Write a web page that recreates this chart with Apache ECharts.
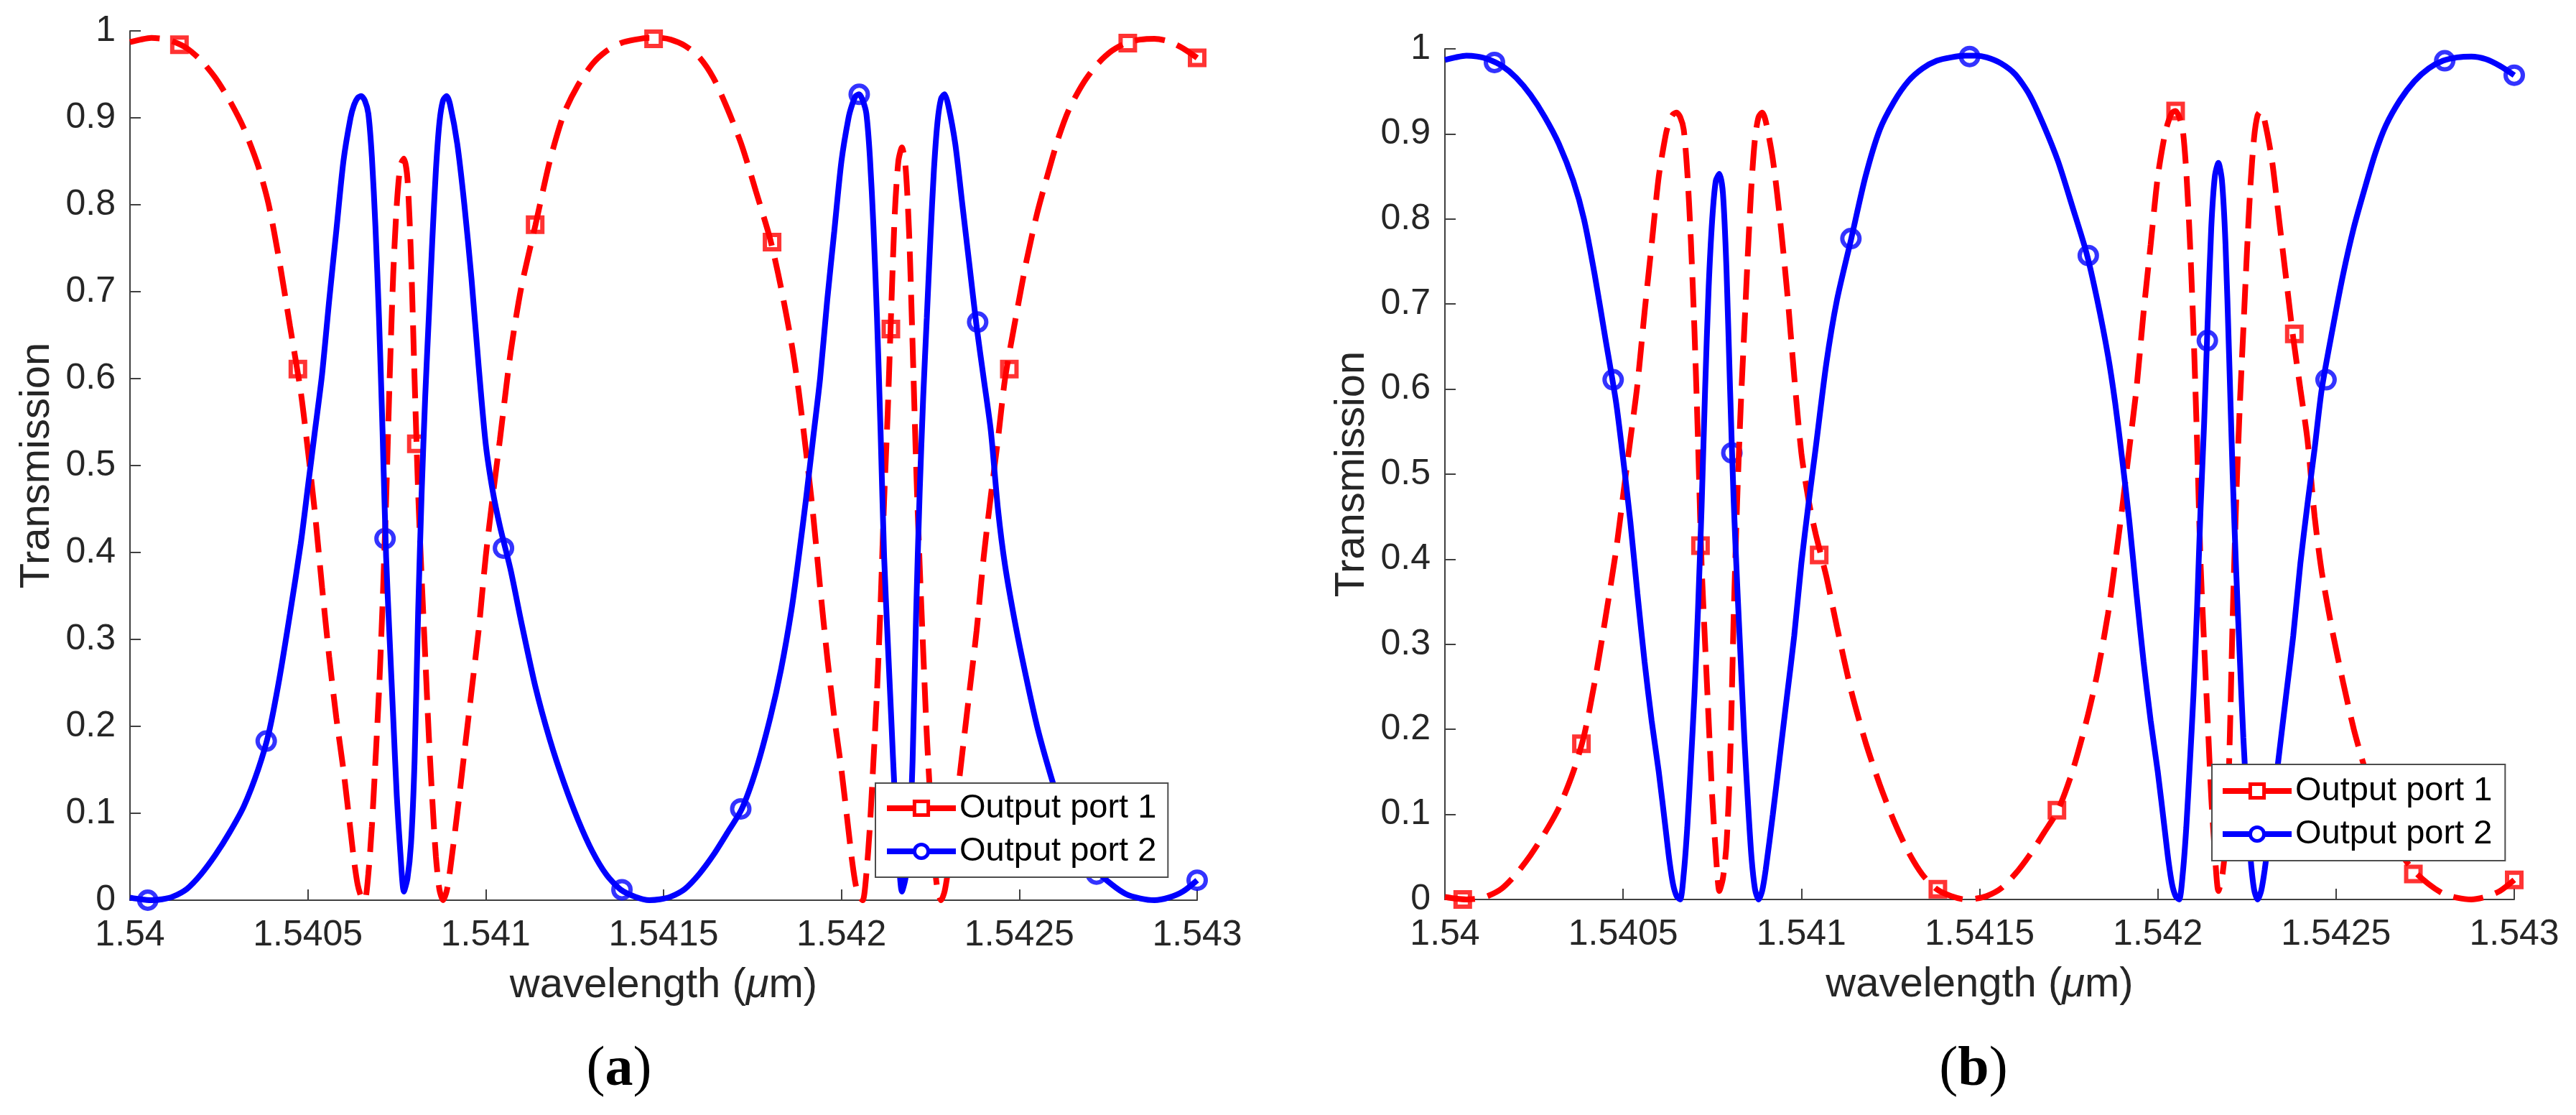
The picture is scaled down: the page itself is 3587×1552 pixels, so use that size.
<!DOCTYPE html>
<html>
<head>
<meta charset="utf-8">
<title>Transmission of output ports</title>
<script src="https://cdn.jsdelivr.net/npm/echarts@6.0.0/dist/echarts.min.js"></script>
<style>
  html, body { margin: 0; padding: 0; background: #fff; }
  #chart { width: 3587px; height: 1552px; }
</style>
</head>
<body>
<div id="chart"></div>
<script>
// wavelength grid (um), shared by both curves
var WAVELENGTH = [
    1.54000, 1.54003, 1.54006, 1.54009, 1.54012, 1.54016, 1.54020, 1.54024, 1.54028, 1.54032, 1.54036,
    1.54039, 1.54042, 1.54045, 1.54048, 1.54050, 1.54052, 1.54054, 1.54056, 1.54058, 1.54060, 1.54062,
    1.54063, 1.54064, 1.54065, 1.54066, 1.54067, 1.54068, 1.54069, 1.54070, 1.54071, 1.54072, 1.54073,
    1.54074, 1.54075, 1.54076, 1.54077, 1.54078, 1.54079, 1.54080, 1.54081, 1.54082, 1.54083, 1.54084,
    1.54085, 1.54086, 1.54087, 1.54088, 1.54089, 1.54090,
    1.54092, 1.54094, 1.54096, 1.54098, 1.54100, 1.54102, 1.54104, 1.54107, 1.54110, 1.54114, 1.54118,
    1.54122, 1.54126, 1.54130, 1.54134, 1.54138, 1.54142, 1.54146,
    1.54149, 1.54152, 1.54156, 1.54160, 1.54164, 1.54168, 1.54172, 1.54176, 1.54180, 1.54183, 1.54186,
    1.54188, 1.54190, 1.54192, 1.54194, 1.54196, 1.54198, 1.54200, 1.54202,
    1.54203, 1.54204, 1.54205, 1.54206, 1.54207, 1.54208, 1.54209, 1.54210, 1.54211, 1.54212, 1.54213,
    1.54214, 1.54215, 1.54216, 1.54217, 1.54218, 1.54219, 1.54220, 1.54221, 1.54222, 1.54223, 1.54224,
    1.54225, 1.54226, 1.54227, 1.54228, 1.54229, 1.54230,
    1.54232, 1.54234, 1.54236, 1.54238, 1.54240, 1.54242, 1.54244, 1.54246, 1.54249, 1.54252, 1.54255,
    1.54258, 1.54261, 1.54264, 1.54268, 1.54272, 1.54276, 1.54280, 1.54284, 1.54288, 1.54292, 1.54296,
    1.54300
];

// curve with the broad peaks (port 1 in (a), port 2 in (b))
var CURVE_BROAD = [
    0.987, 0.990, 0.992, 0.991, 0.988, 0.980, 0.966, 0.946, 0.920, 0.888, 0.845,
    0.800, 0.735, 0.660, 0.585, 0.518, 0.445, 0.360, 0.280, 0.210, 0.150, 0.080,
    0.045, 0.018, 0.004, 0.000, 0.030, 0.085, 0.160, 0.240, 0.340, 0.460, 0.600,
    0.720, 0.800, 0.845, 0.853, 0.830, 0.740, 0.600, 0.470, 0.370, 0.280, 0.190,
    0.115, 0.050, 0.012, 0.000, 0.010, 0.035,
    0.100, 0.170, 0.240, 0.310, 0.395, 0.465, 0.530, 0.630, 0.705, 0.777, 0.850,
    0.905, 0.938, 0.962, 0.977, 0.986, 0.990, 0.992,
    0.992, 0.990, 0.983, 0.970, 0.946, 0.910, 0.868, 0.815, 0.760, 0.705, 0.640,
    0.585, 0.518, 0.445, 0.360, 0.280, 0.210, 0.150, 0.080,
    0.045, 0.018, 0.004, 0.000, 0.030, 0.085, 0.160, 0.240, 0.340, 0.460, 0.560,
    0.680, 0.790, 0.850, 0.866, 0.845, 0.770, 0.640, 0.500, 0.385, 0.285, 0.190,
    0.115, 0.050, 0.012, 0.000, 0.010, 0.035,
    0.100, 0.170, 0.240, 0.310, 0.395, 0.465, 0.530, 0.600, 0.670, 0.735, 0.790,
    0.835, 0.877, 0.910, 0.940, 0.962, 0.977, 0.986, 0.990, 0.991, 0.988, 0.980,
    0.969
];

// curve with the double peaks (port 2 in (a), port 1 in (b))
var CURVE_DOUBLE = [
    0.003, 0.001, 0.000, 0.001, 0.004, 0.013, 0.030, 0.052, 0.078, 0.108, 0.150,
    0.192, 0.255, 0.330, 0.410, 0.475, 0.540, 0.605, 0.690, 0.770, 0.850, 0.900,
    0.915, 0.923, 0.925, 0.920, 0.905, 0.855, 0.775, 0.670, 0.540, 0.395, 0.300,
    0.210, 0.120, 0.055, 0.010, 0.025, 0.065, 0.160, 0.330, 0.470, 0.580, 0.670,
    0.760, 0.840, 0.895, 0.920, 0.925, 0.915,
    0.870, 0.800, 0.715, 0.615, 0.525, 0.470, 0.430, 0.380, 0.320, 0.245, 0.185,
    0.135, 0.092, 0.056, 0.029, 0.012, 0.004, 0.000,
    0.001, 0.004, 0.013, 0.030, 0.052, 0.078, 0.105, 0.150, 0.210, 0.265, 0.335,
    0.395, 0.460, 0.530, 0.600, 0.690, 0.770, 0.850, 0.900,
    0.915, 0.925, 0.927, 0.920, 0.905, 0.855, 0.775, 0.670, 0.540, 0.395, 0.300,
    0.210, 0.120, 0.055, 0.010, 0.025, 0.065, 0.160, 0.330, 0.470, 0.580, 0.670,
    0.760, 0.840, 0.895, 0.922, 0.927, 0.915,
    0.870, 0.800, 0.730, 0.660, 0.600, 0.540, 0.450, 0.385, 0.315, 0.255, 0.200,
    0.155, 0.115, 0.085, 0.055, 0.033, 0.018, 0.007, 0.002, 0.000, 0.003, 0.010,
    0.023
];

// marker positions on each curve
var BROAD_MARK_X = [1.540139, 1.540472, 1.540805, 1.541139, 1.541472, 1.541805, 1.542139, 1.542472, 1.542805, 1.543];
var BROAD_MARK_Y = [0.984, 0.611, 0.525, 0.777, 0.991, 0.757, 0.657, 0.611, 0.986, 0.969];
var DOUBLE_MARK_X = [1.540050, 1.540383, 1.540717, 1.541050, 1.541383, 1.541717, 1.542050, 1.542383, 1.542717, 1.543];
var DOUBLE_MARK_Y = [0.000, 0.183, 0.416, 0.405, 0.012, 0.105, 0.927, 0.665, 0.030, 0.023];

var LEGEND_NAMES = ['Output port 1', 'Output port 2'];

var FONT = '"Liberation Sans", Arial, Helvetica, sans-serif';
var SERIF = '"Liberation Serif", "DejaVu Serif", serif';
var RED = '#ff0000';
var BLUE = '#0000ff';
var AXIS_COLOR = '#404040';

function pairs(xs, ys) {
    var out = [];
    for (var i = 0; i < xs.length; i++) out.push([xs[i], ys[i]]);
    return out;
}

function xAxisFor(idx) {
    return {
        type: 'value', gridIndex: idx,
        min: 1.54, max: 1.543, interval: 0.0005,
        axisLine: { lineStyle: { color: AXIS_COLOR, width: 2 } },
        axisTick: { inside: true, length: 15, lineStyle: { color: AXIS_COLOR, width: 2 } },
        splitLine: { show: false },
        axisLabel: {
            fontSize: 50, fontFamily: FONT, color: '#262626', margin: 24,
            formatter: function (v) { return String(+v.toFixed(4)); }
        },
        name: 'wavelength ({it|\u03bc}m)',
        nameLocation: 'middle', nameGap: 90,
        nameTextStyle: {
            fontSize: 58, fontFamily: FONT, color: '#262626',
            rich: { it: { fontStyle: 'italic', fontSize: 58, fontFamily: FONT, color: '#262626' } }
        }
    };
}

function yAxisFor(idx, gap) {
    return {
        type: 'value', gridIndex: idx,
        min: 0, max: 1, interval: 0.1,
        axisLine: { show: true, lineStyle: { color: AXIS_COLOR, width: 2 } },
        axisTick: { show: true, inside: true, length: 15, lineStyle: { color: AXIS_COLOR, width: 2 } },
        splitLine: { show: false },
        axisLabel: {
            fontSize: 50, fontFamily: FONT, color: '#262626', margin: 20,
            formatter: function (v) { return String(+v.toFixed(1)); }
        },
        name: 'Transmission',
        nameLocation: 'middle', nameGap: gap, nameRotate: 90,
        nameTextStyle: { fontSize: 58, fontFamily: FONT, color: '#262626' }
    };
}

// one panel = red dashed port 1 + blue solid port 2, each with hollow markers
function panelSeries(idx, port1, p1mx, p1my, port2, p2mx, p2my) {
    return [
        {
            name: LEGEND_NAMES[0], type: 'line', xAxisIndex: idx, yAxisIndex: idx,
            data: pairs(WAVELENGTH, port1), smooth: 0.25,
            symbol: 'rect', showSymbol: false,
            lineStyle: { color: RED, width: 8, type: [42, 18] },
            itemStyle: { color: '#ffffff', borderColor: RED, borderWidth: 5 }
        },
        {
            name: 'port1-markers-' + idx, type: 'scatter', xAxisIndex: idx, yAxisIndex: idx,
            data: pairs(p1mx, p1my), symbol: 'rect', symbolSize: 20,
            itemStyle: { color: '#ffffff', borderColor: RED, borderWidth: 6 }
        },
        {
            name: LEGEND_NAMES[1], type: 'line', xAxisIndex: idx, yAxisIndex: idx,
            data: pairs(WAVELENGTH, port2), smooth: 0.25,
            symbol: 'circle', showSymbol: false,
            lineStyle: { color: BLUE, width: 8 },
            itemStyle: { color: '#ffffff', borderColor: BLUE, borderWidth: 5 }
        },
        {
            name: 'port2-markers-' + idx, type: 'scatter', xAxisIndex: idx, yAxisIndex: idx,
            data: pairs(p2mx, p2my), symbol: 'circle', symbolSize: 24,
            itemStyle: { color: 'rgba(255,255,255,0)', borderColor: BLUE, borderWidth: 6 }
        }
    ];
}

function legendAt(left, top, pad) {
    return {
        data: LEGEND_NAMES, orient: 'vertical',
        left: left, top: top, padding: pad,
        itemWidth: 96, itemHeight: 24, itemGap: 10,
        backgroundColor: '#ffffff', borderColor: '#4d4d4d', borderWidth: 2, borderRadius: 0,
        lineStyle: { width: 8 },
        itemStyle: { borderWidth: 5 },
        textStyle: { fontSize: 47, fontFamily: FONT, color: '#000000', lineHeight: 50 },
        selectedMode: false
    };
}

var chart = echarts.init(document.getElementById('chart'), null, { renderer: 'canvas' });

var series = []
    .concat(panelSeries(0, CURVE_BROAD, BROAD_MARK_X, BROAD_MARK_Y, CURVE_DOUBLE, DOUBLE_MARK_X, DOUBLE_MARK_Y))
    .concat(panelSeries(1, CURVE_DOUBLE, DOUBLE_MARK_X, DOUBLE_MARK_Y, CURVE_BROAD, BROAD_MARK_X, BROAD_MARK_Y));

chart.setOption({
    animation: false,
    backgroundColor: '#ffffff',
    grid: [
        { left: 181, top: 43, width: 1486, height: 1210 },
        { left: 2012, top: 68, width: 1489, height: 1184 }
    ],
    xAxis: [xAxisFor(0), xAxisFor(1)],
    yAxis: [yAxisFor(0, 100), yAxisFor(1, 100)],
    legend: [
        legendAt(1219, 1090, [10, 16, 11, 12]),
        legendAt(3080, 1064, [12, 18, 12, 11])
    ],
    series: series,
    graphic: [
        {
            type: 'text', x: 862, y: 1490,
            style: {
                text: '({b|a})', fill: '#000', fontSize: 78, fontFamily: SERIF,
                align: 'center', verticalAlign: 'middle',
                rich: { b: { fontWeight: 'bold', fontSize: 78, fontFamily: SERIF } }
            }
        },
        {
            type: 'text', x: 2748, y: 1490,
            style: {
                text: '({b|b})', fill: '#000', fontSize: 78, fontFamily: SERIF,
                align: 'center', verticalAlign: 'middle',
                rich: { b: { fontWeight: 'bold', fontSize: 78, fontFamily: SERIF } }
            }
        }
    ]
});
</script>
</body>
</html>
